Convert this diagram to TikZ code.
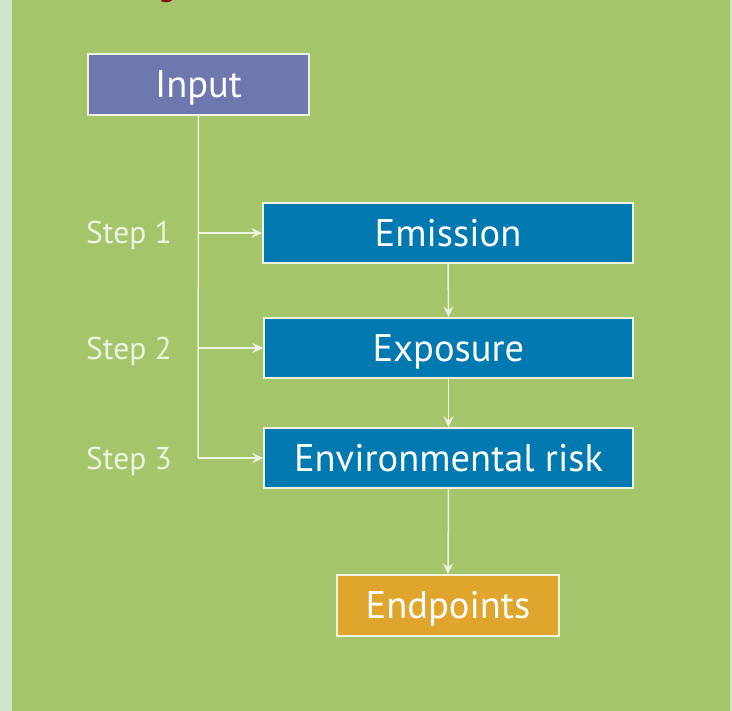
\documentclass[tikz,border=0pt]{standalone}
\usepackage{fontspec}
\setmainfont{PT Sans}
\usetikzlibrary{arrows.meta}
\definecolor{bggreen}{HTML}{A5C56A}
\definecolor{strip}{HTML}{CDE6C9}
\definecolor{inputc}{HTML}{6E77AE}
\definecolor{bluec}{HTML}{0079B0}
\definecolor{endc}{HTML}{E0A52C}
\definecolor{linec}{HTML}{EEF2E2}
\definecolor{titlered}{HTML}{7F1010}
\tikzset{
  box/.style={draw=linec, line width=1.5pt, text=white, inner sep=0pt,
    text height=27pt, text depth=0pt,
    font=\fontsize{38.5}{44}\selectfont},
  steplabel/.style={text=linec, inner sep=0pt, anchor=base west,
    font=\fontsize{31.5}{36}\selectfont},
  conn/.style={draw=linec, line width=1.5pt},
  arr/.style={conn, -{Stealth[length=11pt,width=10pt,inset=4pt]}}
}
\begin{document}
\begin{tikzpicture}[x=1pt,y=-1pt]
\useasboundingbox (0,0) rectangle (732,711);
\fill[strip] (0,0) rectangle (732,711);
\fill[bggreen] (12,0) rectangle (730,711);
\begin{scope}
  \clip (0,0) rectangle (732,711);
  \node[text=titlered, inner sep=0pt, anchor=base, font=\fontsize{34}{40}\selectfont] (title) at (167,-4) {g};
\end{scope}
\node[box, fill=inputc, minimum width=221pt, minimum height=61pt] (input) at (198.5,84.5) {Input};
\node[box, fill=bluec, minimum width=370pt, minimum height=60pt] (emission) at (448,233) {Emission};
\node[box, fill=bluec, minimum width=369pt, minimum height=60pt] (exposure) at (448.5,348) {Exposure};
\node[box, fill=bluec, minimum width=369pt, minimum height=60pt] (envrisk) at (448.5,458) {Environmental risk};
\node[box, fill=endc, minimum width=222pt, minimum height=61pt] (endpoints) at (448,605.5) {Endpoints};
\node[steplabel] (s1) at (86,244) {Step 1};
\node[steplabel] (s2) at (86,360) {Step 2};
\node[steplabel] (s3) at (86,470) {Step 3};
\coordinate (j1) at (198,233);
\coordinate (j2) at (198,348);
\coordinate (j3) at (198,458);
\draw[conn] (input.south) -- (j3);
\draw[arr] (j3) -- (envrisk.west);
\draw[arr] (j1) -- (emission.west);
\draw[arr] (j2) -- (exposure.west);
\draw[arr] (emission.south) -- (exposure.north);
\draw[arr] (exposure.south) -- (envrisk.north);
\draw[arr] (envrisk.south) -- (endpoints.north);
\end{tikzpicture}
\end{document}
